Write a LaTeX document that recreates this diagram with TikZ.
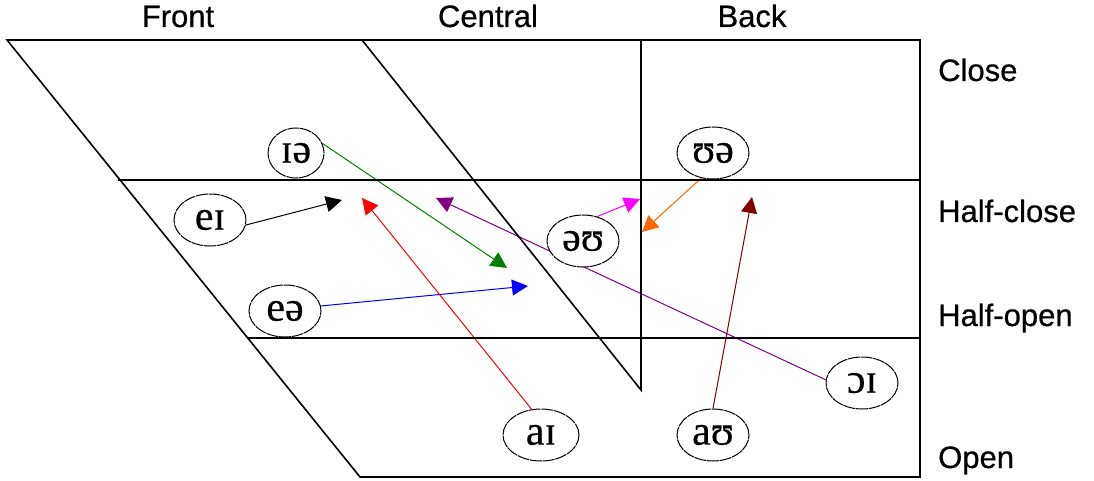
\documentclass[tikz,border=0pt]{standalone}
\usepackage{fontspec}
\setmainfont{Liberation Serif}
\newfontfamily\lblfont[FakeBold=0.6]{Liberation Sans}
\newfontfamily\ipafont[FakeBold=0.4]{Liberation Serif}
\usetikzlibrary{shapes.geometric,arrows.meta}
\definecolor{cgreen}{RGB}{0,128,0}
\definecolor{cblue}{RGB}{0,0,255}
\definecolor{cred}{RGB}{255,0,0}
\definecolor{cpurple}{RGB}{128,0,128}
\definecolor{cmagenta}{RGB}{255,0,255}
\definecolor{corange}{RGB}{255,102,0}
\definecolor{cdarkred}{RGB}{128,0,0}
\pgfdeclarelayer{bg}
\pgfsetlayers{bg,main}
\begin{document}
\begin{tikzpicture}[x=1pt,y=-1pt,
  grid/.style={line width=1.6pt, black},
  vowel/.style={ellipse, draw, line width=1pt, dash pattern=on 12pt off 0.8pt,
    fill=white, inner sep=0pt,
    minimum width=72pt, minimum height=52pt, font=\ipafont\fontsize{42}{42}\selectfont},
  lbl/.style={font=\lblfont\fontsize{31}{31}\selectfont, inner sep=0pt},
  conn/.style={line width=1pt, -{Triangle[length=16pt,width=16pt]}}]
\useasboundingbox (0,0) rectangle (1094,481);
% grid
\coordinate (TL) at (7,40);
\coordinate (TC) at (362,40);
\coordinate (TB) at (641,40);
\coordinate (TR) at (920,40);
\coordinate (HCl) at (118,180);
\coordinate (HCr) at (920,180);
\coordinate (HOl) at (248,338);
\coordinate (HOr) at (920,338);
\coordinate (BL) at (360,477);
\coordinate (BR) at (920,477);
\coordinate (CE) at (641,390);
\draw[grid] (TL) -- (TR) -- (BR) -- (BL) -- cycle;
\draw[grid] (TC) -- (CE) -- (TB);
\draw[grid] (HCl) -- (HCr);
\draw[grid] (HOl) -- (HOr);
% labels
\node[lbl, anchor=base] (front) at (178,27) {Front};
\node[lbl, anchor=base] (central) at (488,27) {Central};
\node[lbl, anchor=base] (back) at (752,27) {Back};
\node[lbl, anchor=base west] (close) at (938,81) {Close};
\node[lbl, anchor=base west] (hclose) at (938,222) {Half-close};
\node[lbl, anchor=base west] (hopen) at (938,326) {Half-open};
\node[lbl, anchor=base west] (open) at (938,468) {Open};
% vowels
\node[vowel, minimum width=56pt, minimum height=50pt] (ie) at (296,153) {ɪə};
\node[vowel] (ue) at (713,153) {ʊə};
\node[vowel] (ei) at (210,220) {eɪ};
\node[vowel] (ou) at (583,241) {əʊ};
\node[vowel] (ea) at (285,311) {eə};
\node[vowel] (oi) at (862,383) {ɔɪ};
\node[vowel, minimum width=76pt] (ai) at (541,435) {aɪ};
\node[vowel] (au) at (713,435) {aʊ};
% arrow targets
\coordinate (tEI) at (342,200);
\coordinate (tIE) at (507,268);
\coordinate (tEA) at (528,286);
\coordinate (tAI) at (362,198);
\coordinate (tOI) at (436,198);
\coordinate (tOU) at (640,199);
\coordinate (tUE) at (642,232);
\coordinate (tAU) at (752,197);
\begin{pgfonlayer}{bg}
\draw[conn, black] (ei.-8) -- (tEI);
\draw[conn, cgreen] (ie.20) -- (tIE);
\draw[conn, cblue] (ea.8) -- (tEA);
\draw[conn, cred] (ai.110) -- (tAI);
\draw[conn, cpurple] (oi.175) -- (tOI);
\draw[conn, cmagenta] (ou.60) -- (tOU);
\draw[conn, corange] (ue.-115) -- (tUE);
\draw[conn, cdarkred] (au.north) -- (tAU);
\end{pgfonlayer}
\end{tikzpicture}
\end{document}
